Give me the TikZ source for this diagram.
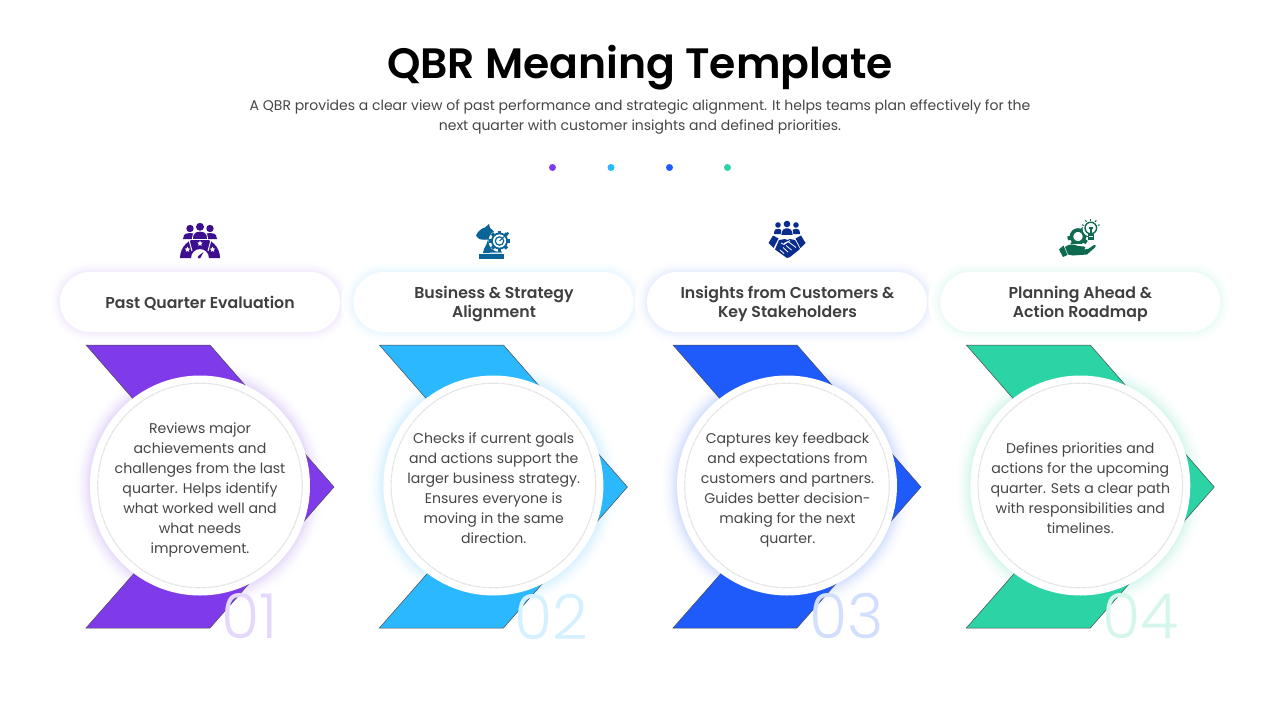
\documentclass[tikz,border=0pt]{standalone}
\usepackage{fontspec}
\setmainfont{Poppins}
\newfontfamily\psemi{Poppins SemiBold}
\newfontfamily\plight{Poppins Light}
\definecolor{cA}{HTML}{7F3BEA}
\definecolor{cB}{HTML}{2BB8FF}
\definecolor{cC}{HTML}{1F5AFA}
\definecolor{cD}{HTML}{2BD3A5}
\definecolor{iA}{HTML}{3D0F8E}
\definecolor{iB}{HTML}{0B6498}
\definecolor{iC}{HTML}{0A2C8E}
\definecolor{iD}{HTML}{0E6B50}
\definecolor{txt}{HTML}{464646}
\definecolor{ringc}{HTML}{E4E4E4}
\tikzset{
  headtitle/.style={font=\psemi\fontsize{42.5}{50}\selectfont,text=black,inner sep=0pt},
  subtitle/.style={font=\fontsize{14}{20}\selectfont,text=txt,align=center,inner sep=0pt},
  pilltext/.style={font=\psemi\fontsize{15.75}{19}\selectfont,text=txt!90!black,align=center,inner sep=0pt},
  bodytext/.style={font=\fontsize{14.1}{20}\selectfont,text=txt,align=center,inner sep=0pt},
  numtext/.style={font=\plight\fontsize{62}{62}\selectfont,inner sep=0pt,anchor=west},
  chev/.style={draw=black!70,line width=0.5pt},
  dot/.style={circle,minimum size=7pt,inner sep=0pt},
}
\newcommand{\mystar}[3]{\fill[white] (#1,#2-#3) -- (#1+0.29*#3,#2-0.4*#3) -- (#1+0.95*#3,#2-0.31*#3) -- (#1+0.47*#3,#2+0.15*#3) -- (#1+0.59*#3,#2+0.81*#3) -- (#1,#2+0.5*#3) -- (#1-0.59*#3,#2+0.81*#3) -- (#1-0.47*#3,#2+0.15*#3) -- (#1-0.95*#3,#2-0.31*#3) -- (#1-0.29*#3,#2-0.4*#3) -- cycle;}
% #1 dx, #2 colour, #3 number, #4 name, #5 number x
\newcommand{\stepcol}[5]{%
\begin{scope}[shift={(#1,0)}]
  \foreach \g in {12,11,...,1}{
    \pgfmathsetmacro{\rr}{30+\g}
    \pgfmathsetmacro{\pp}{11*(1-\g/13)*(1-\g/13)}
    \fill[#2!\pp!white,rounded corners=\rr pt] ({60-\g},{272-\g}) rectangle ({340+\g},{332+\g});
  }
  \fill[white,rounded corners=30pt] (60,272) rectangle (340,332);
  \foreach \g in {17,16,...,1}{
    \pgfmathsetmacro{\pp}{20*(1-\g/18)*(1-\g/18)}
    \fill[#2!\pp!white] (200,485.5) circle[radius={110+\g}];
  }
  \path[fill=#2,chev] (86,345) -- (210,345) -- (334,487) -- (210,628) -- (86,628) -- (210,487) -- cycle;
  \node[numtext,text=#2!20!white] (num#4) at (#5,616.5) {#3};
  \fill[white] (200,485.5) circle[radius=110];
  \draw[ringc,line width=1.1pt,dash pattern=on 6pt off 0.7pt] (200,485.5) circle[radius=102.3];
\end{scope}}
\begin{document}
\begin{tikzpicture}[x=1pt,y=-1pt]
\useasboundingbox (0,0) rectangle (1280,720);
\fill[white] (0,0) rectangle (1280,720);
\node[headtitle] (title) at (640,68) {QBR Meaning Template};
\node[subtitle] (sub) at (640,117.5) {A QBR provides a clear view of past performance and strategic alignment. It helps teams plan effectively for the\\next quarter with customer insights and defined priorities.};
\node[dot,fill=cA] (d1) at (552.5,167.5) {};
\node[dot,fill=cB] (d2) at (611,167.5) {};
\node[dot,fill=cC] (d3) at (669.5,167.5) {};
\node[dot,fill=cD] (d4) at (727.5,167.5) {};

\stepcol{0}{cA}{01}{a}{221.5}
\stepcol{293.4}{cB}{02}{b}{220.5}
\stepcol{587}{cC}{03}{c}{222.5}
\stepcol{880.3}{cD}{04}{d}{221.5}

\node[pilltext] (pa) at (200,303.5) {Past Quarter Evaluation};
\node[pilltext] (pb) at (494,303.5) {Business \& Strategy\\Alignment};
\node[pilltext] (pc) at (787.5,303.5) {Insights from Customers \&\\Key Stakeholders};
\node[pilltext] (pd) at (1080.3,303.5) {Planning Ahead \&\\Action Roadmap};

\node[bodytext] (ta) at (200,490) {Reviews major\\achievements and\\challenges from the last\\quarter. Helps identify\\what worked well and\\what needs\\improvement.};
\node[bodytext] (tb) at (493.7,488) {Checks if current goals\\and actions support the\\larger business strategy.\\Ensures everyone is\\moving in the same\\direction.};
\node[bodytext] (tc) at (787.5,490) {Captures key feedback\\and expectations from\\customers and partners.\\Guides better decision-\\making for the next\\quarter.};
\node[bodytext] (td) at (1080.3,488) {Defines priorities and\\actions for the upcoming\\quarter. Sets a clear path\\with responsibilities and\\timelines.};

% icon 1: people and gauge
\fill[iA] (180,258) arc[start angle=180,end angle=360,radius=20] -- (209,258) arc[start angle=0,end angle=-180,radius=9] -- cycle;
\draw[white,line width=1pt] (192,251) -- (189,240) (208,251) -- (211,240) (189,240) .. controls (196,237) and (204,237) .. (211,240);
\fill[iA] (190,228.5) circle[radius=3.7] (200,226.8) circle[radius=4] (210,228.5) circle[radius=3.7];
\fill[iA] (183,239) .. controls (183.5,233) and (187,233) .. (190,233) .. controls (193,233) and (196.5,233) .. (197,239) -- cycle;
\fill[iA] (203,239) .. controls (203.5,233) and (207,233) .. (210,233) .. controls (213,233) and (216.5,233) .. (217,239) -- cycle;
\draw[white,line width=0.8pt,fill=iA] (192.5,239.5) .. controls (192.5,232) and (196,231.2) .. (200,231.2) .. controls (204,231.2) and (207.5,232) .. (207.5,239.5) -- cycle;
\mystar{187.5}{249.5}{2.8}
\mystar{200}{243.5}{2.8}
\mystar{212.5}{249.5}{2.8}
\fill[iA] (198,256.2) -- (203.5,252) -- (200.5,257.8) -- cycle;
\fill[iA] (199,257.2) circle[radius=1.4];

% icon 2: chess knight and target gear
\fill[iB] (479,254) rectangle (504,259);
\fill[iB] (483,253) .. controls (483.5,248) and (487,245) .. (488,239.5) .. controls (484,240) and (480,240) .. (478,238) -- (476,235.5) .. controls (478,231) and (482,228) .. (485,227.5) -- (489,224) -- (490,228) .. controls (496,232) and (502,243) .. (502,253) -- cycle;
\fill[iB!60!white] (490,251.5) rectangle (502,253);
\fill[white] (499.5,241) circle[radius=11];
\foreach \a in {0,45,...,315}{\fill[iB,rotate around={\a:(499.5,241)}] (497.8,230.5) rectangle (501.2,234);}
\fill[iB] (499.5,241) circle[radius=8.5];
\fill[white] (499.5,241) circle[radius=6.6];
\draw[iB,line width=1.2pt] (499.5,241) circle[radius=4.2];
\draw[iB,line width=1pt] (499.5,241) -- (507,234);
\fill[iB] (507.5,233.5) circle[radius=1.7];

% icon 3: people and handshake
\fill[iC] (778,225) circle[radius=2.8] (787,224) circle[radius=3.3] (796,225) circle[radius=2.8];
\fill[iC] (774,234) .. controls (774,229) and (776,228.8) .. (778,228.8) .. controls (780,228.8) and (782,229) .. (782,234) -- cycle;
\fill[iC] (792,234) .. controls (792,229) and (794,228.8) .. (796,228.8) .. controls (798,228.8) and (800,229) .. (800,234) -- cycle;
\draw[white,line width=0.6pt,fill=iC] (781,235.5) .. controls (781,229) and (784,228) .. (787,228) .. controls (790,228) and (793,229) .. (793,235.5) -- cycle;
\fill[iC] (768.5,243) -- (773,235.5) -- (778.5,238.5) -- (773.5,248) -- cycle;
\fill[iC] (805.5,243) -- (801,235.5) -- (795.5,238.5) -- (800.5,248) -- cycle;
\fill[iC] (779,240) -- (785,239) -- (787,240) -- (790,239) -- (795,240) -- (800,249) -- (790,257) -- (787,258) -- (775,249.5) -- cycle;
\draw[white,line width=0.8pt] (780,250) -- (784,253.5) (783,247.5) -- (788,252) (786,245.5) -- (791.5,250) (784,243.5) -- (788,241.5) -- (796,247.5) (790,240.5) -- (784,244.5) -- (781,243);

% icon 4: hand, gear and bulb
\draw[iD,line width=3.6pt] (1078,236.5) circle[radius=6.5];
\foreach \a in {100,145,...,325}{\fill[iD,rotate around={\a:(1078,236.5)}] (1076,226) rectangle (1080,230);}
\draw[white,line width=1.5pt,fill=white] (1090.8,228.5) circle[radius=7.5];
\draw[iD,line width=1.4pt,fill=white] (1090.8,228) circle[radius=5.8];
\fill[iD] (1087.5,234) rectangle (1094,240);
\fill[iD] (1090,229) rectangle (1091.6,234);
\fill[iD] (1089,226.5) rectangle (1092.6,229);
\fill[white] (1088.5,236) rectangle (1093,236.8);
\foreach \a in {-70,-35,0,35,70}{\fill[iD,rotate around={\a:(1090.8,228)}] (1090.3,218.5) rectangle (1091.3,220.5);}
\fill[white] (1069,244) rectangle (1096,247);
\fill[iD] (1059,249.5) -- (1063.5,245.5) -- (1067.5,255) -- (1063,257) -- cycle;
\fill[iD] (1065,247) .. controls (1069,243.5) and (1074,244) .. (1078,246) -- (1084,246.5) .. controls (1086,246.5) and (1086,249) .. (1084,249.5) -- (1088,249) -- (1094,245) .. controls (1096,244.5) and (1096.5,246) .. (1095,247.5) -- (1087,254.5) -- (1073,255.5) -- (1068,254.5) -- cycle;
\end{tikzpicture}
\end{document}
